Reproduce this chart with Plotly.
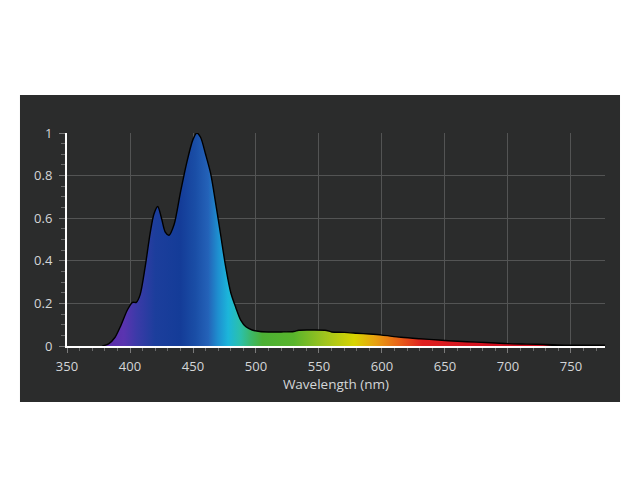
import plotly.graph_objects as go

# emission spectrum
wavelength = [378, 383, 388, 393, 398, 402, 405, 408, 412, 416, 419, 422, 425, 428,
              431, 435, 440, 445, 450, 453, 456, 460, 464, 468, 472, 476, 480, 484,
              488, 492, 497, 503, 510, 520, 530, 534, 545, 556, 560, 570, 580, 590,
              600, 615, 630, 645, 660, 675, 690, 700, 715, 730, 745, 760, 777]
intensity = [0.0, 0.01, 0.04, 0.10, 0.17, 0.205, 0.205, 0.24, 0.37, 0.53, 0.62, 0.655,
             0.60, 0.535, 0.52, 0.57, 0.72, 0.86, 0.97, 1.0, 0.98, 0.90, 0.81, 0.67,
             0.52, 0.37, 0.25, 0.18, 0.12, 0.09, 0.075, 0.068, 0.066, 0.066, 0.068,
             0.074, 0.075, 0.073, 0.066, 0.064, 0.060, 0.056, 0.051, 0.041, 0.034,
             0.028, 0.022, 0.018, 0.014, 0.011, 0.009, 0.007, 0.004, 0.004, 0.004]

# colour of the fill along the wavelength axis
grad_nm = [380, 395, 405, 420, 440, 452, 462, 470, 478, 488, 496, 505, 530, 555,
           578, 595, 615, 632, 690, 728, 735, 780]
grad_col = ["#5c2ca8", "#5a34b0", "#3c3aa8", "#1c3e9c", "#143c98", "#1a4ea6",
            "#2462b8", "#1e90d0", "#1cb6da", "#2cc0a8", "#3cb86a", "#4cb034",
            "#58b42c", "#a0c41e", "#d8d400", "#e8a010", "#e85c18", "#e02020",
            "#d01020", "#c80818", "#000000", "#000000"]

g0, g1 = grad_nm[0], grad_nm[-1]
colorscale = [[(n - g0) / (g1 - g0), c] for n, c in zip(grad_nm, grad_col)]

PANEL = "#2b2c2c"
GRID = "#535454"
TXT = "#d4d6d8"

fig = go.Figure()
fig.add_trace(go.Scatter(
    x=wavelength, y=intensity,
    mode="lines",
    line=dict(color="black", width=1.4, shape="spline", smoothing=0.8),
    fill="tozeroy",
    fillgradient=dict(type="horizontal", colorscale=colorscale, start=g0, stop=g1),
    hoverinfo="skip",
    showlegend=False,
))

# dark panel behind the chart
fig.add_shape(type="rect", xref="paper", yref="paper",
              x0=-0.0874, x1=1.0279, y0=-0.263, y1=1.178,
              fillcolor=PANEL, line=dict(width=0), layer="below")

# page body adds 8px, so margins are shifted to compensate
fig.update_layout(
    width=640, height=480,
    margin=dict(l=59, r=43, t=125, b=142),
    paper_bgcolor="white",
    plot_bgcolor=PANEL,
    font=dict(family="Open Sans", size=13, color=TXT),
    xaxis=dict(
        range=[350, 777], dtick=50, tick0=350,
        showline=True, linecolor="white", linewidth=2,
        showgrid=True, gridcolor=GRID, gridwidth=1,
        zeroline=False,
        ticks="outside", ticklen=5, tickcolor="#7a7a7a", tickwidth=1,
        minor=dict(dtick=10, ticks="outside", ticklen=3, tickcolor="#6a6a6a", showgrid=False),
        ticklabelstandoff=2,
        title=dict(text="Wavelength (nm)", standoff=5, font=dict(size=13.5, color=TXT)),
    ),
    yaxis=dict(
        range=[0, 1], dtick=0.2,
        showline=True, linecolor="white", linewidth=2,
        showgrid=True, gridcolor=GRID, gridwidth=1,
        zeroline=False,
        ticks="outside", ticklen=6, tickcolor="#7a7a7a", tickwidth=1,
        minor=dict(dtick=0.05, ticks="outside", ticklen=4, tickcolor="#6a6a6a", showgrid=False),
        ticklabelstandoff=4,
    ),
)

fig.write_html("out.html")
